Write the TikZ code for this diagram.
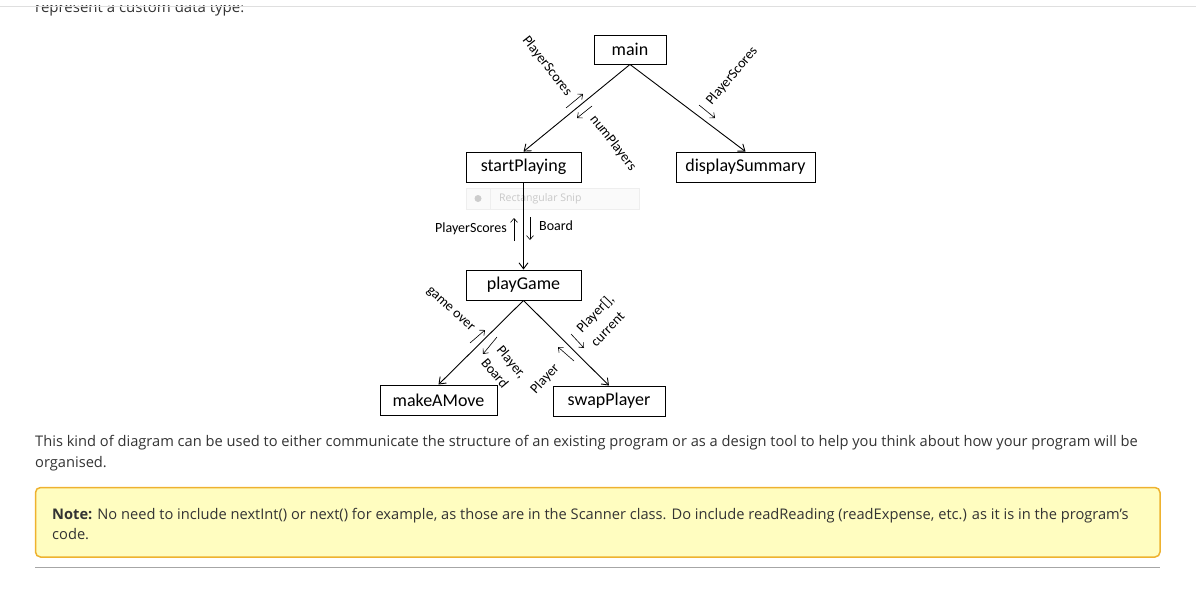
\documentclass[tikz,border=0pt]{standalone}
\usepackage{fontspec}
\setmainfont{Open Sans}
\newfontfamily\diagfont{Carlito}
\usetikzlibrary{arrows.meta}
\definecolor{txt}{HTML}{333333}
\definecolor{notebd}{HTML}{EEB22F}
\definecolor{notefill}{HTML}{FFFDC0}
\definecolor{snipbd}{HTML}{EEEEEE}
\definecolor{sniptxt}{HTML}{C8C8C8}
\begin{document}
\begin{tikzpicture}[x=1pt,y=-1pt,
  box/.style={draw, line width=0.9pt, font=\diagfont\fontsize{18}{21}\selectfont, inner sep=0pt, minimum height=30pt},
  conn/.style={line width=0.9pt, -{Straight Barb[length=6pt,width=9pt,line width=0.9pt]}},
  lbl/.style={font=\diagfont\fontsize{14}{20}\selectfont, inner sep=0pt},
  tinyarr/.style={line width=0.6pt, -{Straight Barb[length=4pt,width=7pt,line width=0.6pt]}},
  body/.style={anchor=base west, inner sep=0pt, font=\fontsize{14.65}{18}\selectfont, text=txt},
]
\useasboundingbox (0,0) rectangle (1196,600);
% clipped top line of text
\begin{scope}
\clip (0,5.5) rectangle (1196,40);
\node[body, font=\fontsize{15}{18}\selectfont] (toptext) at (35,12.5) {represent a custom data type:};
\end{scope}
\draw[gray!25, line width=1pt] (0,6) -- (1196,6);

% faint snip overlay
\draw[snipbd, fill=white!98!black, line width=0.6pt] (466,188) rectangle (639,209);
\draw[snipbd, line width=0.6pt] (490,188) -- (490,209);
\fill[black!20] (478,198.5) circle (3.5pt);
\node[anchor=west, inner sep=0pt, text=sniptxt, font=\fontsize{10.5}{12}\selectfont] (snip) at (499,198.5) {Rectangular Snip};

% boxes
\node[box, minimum width=72pt, minimum height=29pt] (main) at (630,49.5) {main};
\node[box, minimum width=115pt] (sp) at (523.5,167) {startPlaying};
\node[box, minimum width=139pt] (ds) at (745.5,167) {displaySummary};
\node[box, minimum width=115pt] (pg) at (523.5,285) {playGame};
\node[box, minimum width=117pt] (mm) at (438.5,400) {makeAMove};
\node[box, minimum width=112pt] (sw) at (609,401) {swapPlayer};

% connectors
\draw[conn] (main.south) -- (sp.north);
\draw[conn] (main.south) -- (ds.north);
\draw[conn] (sp.south) -- (pg.north);
\draw[conn] (pg.south) -- (mm.north);
\draw[conn] (pg.south) -- (sw.north);

% labels and small arrows
\node[lbl, rotate=-52] (l1) at (547,66) {PlayerScores};
\coordinate (a1s) at (566,108); \coordinate (a1e) at (583,94);
\draw[tinyarr] (a1s) -- (a1e);
\node[lbl, rotate=-52] (l2) at (613,143) {numPlayers};
\coordinate (a2s) at (592,106); \coordinate (a2e) at (577,118);
\draw[tinyarr] (a2s) -- (a2e);
\node[lbl, rotate=50] (l3) at (732,76) {PlayerScores};
\coordinate (a3s) at (699,105); \coordinate (a3e) at (715,118);
\draw[tinyarr] (a3s) -- (a3e);
\node[lbl, anchor=east] (l4) at (507,229) {PlayerScores};
\coordinate (a4s) at (514,241); \coordinate (a4e) at (514,218);
\draw[tinyarr] (a4s) -- (a4e);
\coordinate (a5s) at (530,217); \coordinate (a5e) at (530,240);
\draw[tinyarr] (a5s) -- (a5e);
\node[lbl, anchor=west] (l5) at (539,226) {Board};
\node[lbl, rotate=-42] (l6) at (450,310) {game over};
\coordinate (a6s) at (470,343); \coordinate (a6e) at (485,330);
\draw[tinyarr] (a6s) -- (a6e);
\node[lbl, rotate=-50, align=left] (l7) at (504,368) {Player,\\Board};
\coordinate (a7s) at (497,337); \coordinate (a7e) at (483,354);
\draw[tinyarr] (a7s) -- (a7e);
\node[lbl, rotate=46, align=left] (l8) at (602,320) {Player[],\\current};
\coordinate (a8s) at (571,334); \coordinate (a8e) at (584,348);
\draw[tinyarr] (a8s) -- (a8e);
\node[lbl, rotate=47] (l9) at (545,379) {Player};
\coordinate (a9s) at (574,361); \coordinate (a9e) at (558,347);
\draw[tinyarr] (a9s) -- (a9e);

% paragraph
\node[body] (p1) at (35,446) {This kind of diagram can be used to either communicate the structure of an existing program or as a design tool to help you think about how your program will be};
\node[body] (p2) at (35,467) {organised.};

% note box
\draw[notebd, fill=notefill, line width=1.5pt, rounded corners=5pt] (35.5,487.5) rectangle (1160,557);
\node[body] (n1) at (52,519) {\textbf{Note:} No need to include nextInt() or next() for example, as those are in the Scanner class. Do include readReading (readExpense, etc.) as it is in the program’s};
\node[body] (n2) at (52,539) {code.};

\draw[black!35, line width=1pt] (35,567) -- (1160,567);
\end{tikzpicture}
\end{document}
